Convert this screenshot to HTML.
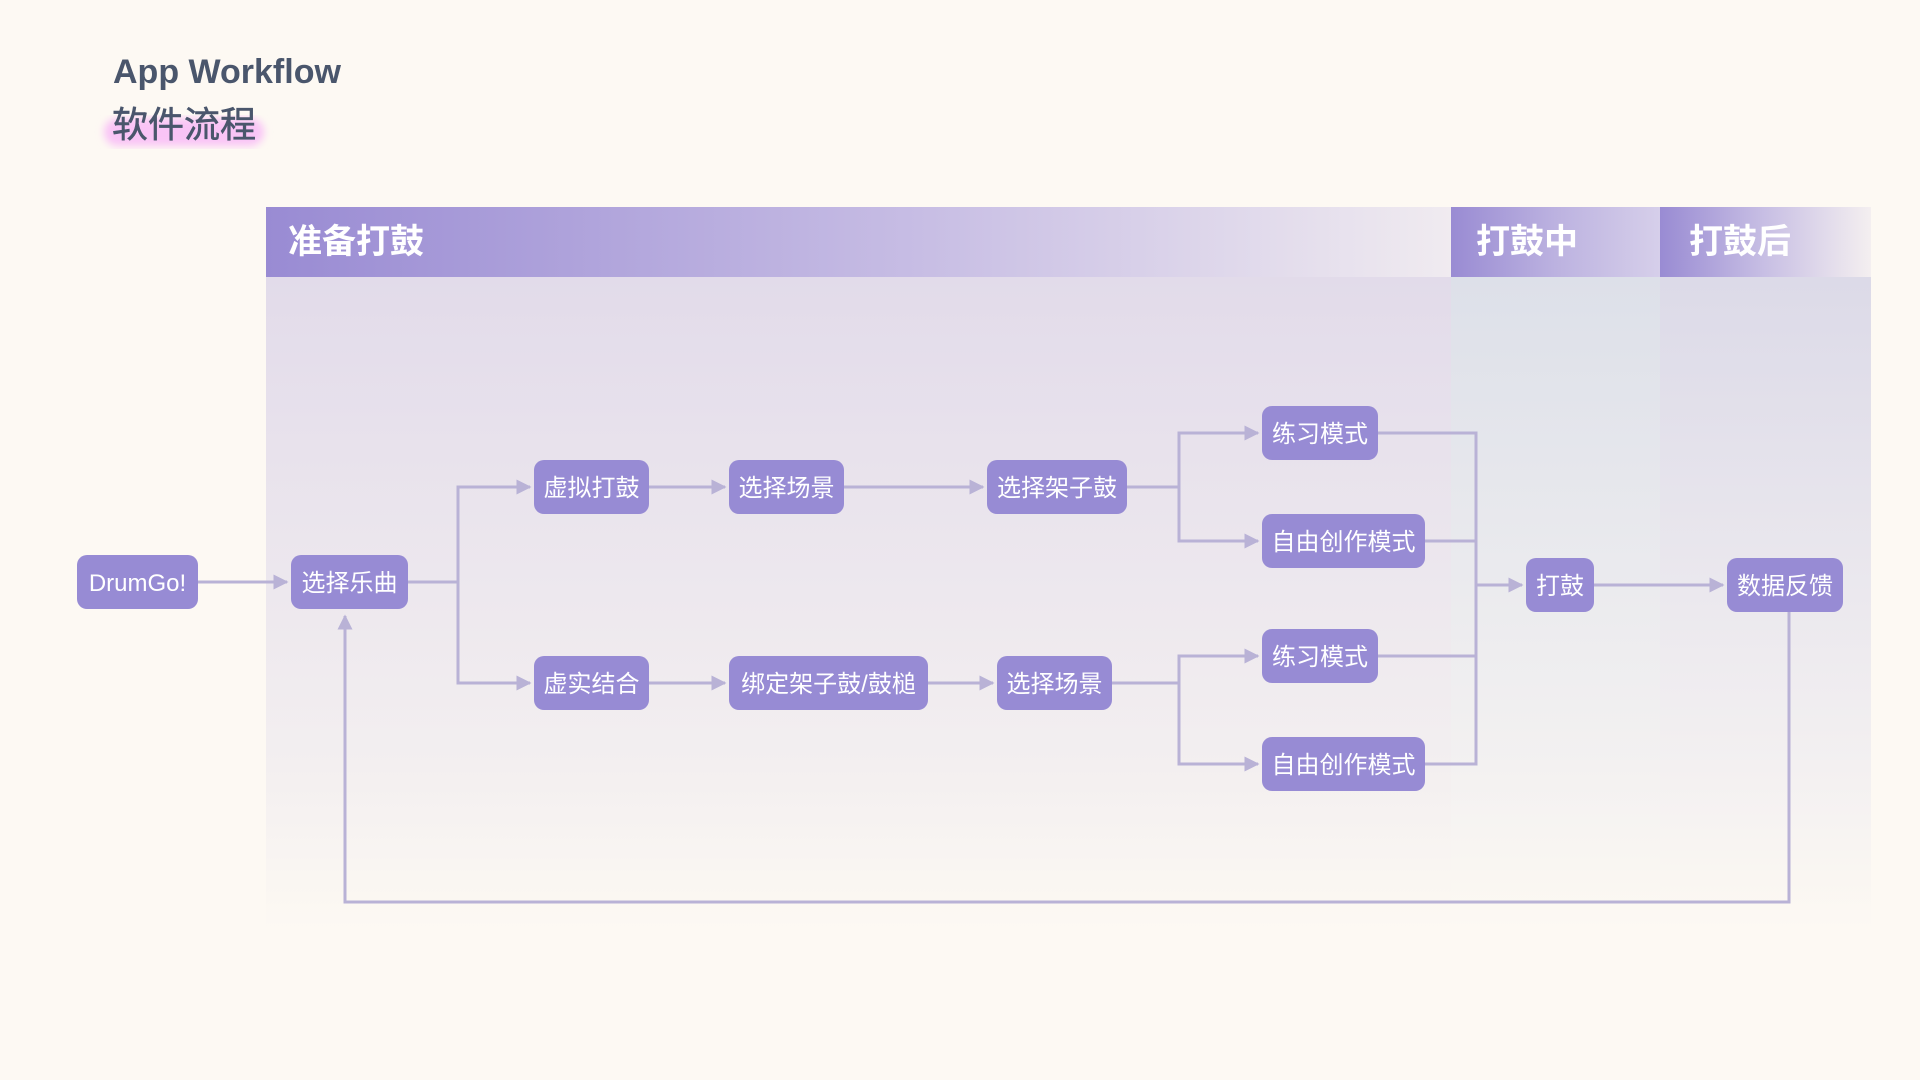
<!DOCTYPE html>
<html><head><meta charset="utf-8"><style>
html,body{margin:0;padding:0;background:#fdf9f3;width:1920px;height:1080px;overflow:hidden}
</style></head><body>
<svg width="1920" height="1080" xmlns="http://www.w3.org/2000/svg" font-family="'Liberation Sans','Noto Sans CJK SC',sans-serif">
<defs>
<linearGradient id="h1" x1="0" x2="1" y1="0" y2="0"><stop offset="0" stop-color="#998bd3"/><stop offset="0.55" stop-color="#c7bde4"/><stop offset="1" stop-color="#f0ebf0"/></linearGradient>
<linearGradient id="h2" x1="0" x2="1" y1="0" y2="0"><stop offset="0" stop-color="#998bd3"/><stop offset="0.5" stop-color="#bcb2e0"/><stop offset="1" stop-color="#d6cfea"/></linearGradient>
<linearGradient id="h3" x1="0" x2="1" y1="0" y2="0"><stop offset="0" stop-color="#998bd3"/><stop offset="0.5" stop-color="#c8bfe4"/><stop offset="1" stop-color="#f4eff0"/></linearGradient>
<linearGradient id="b1" x1="0" x2="0" y1="0" y2="1"><stop offset="0" stop-color="#e2dbea"/><stop offset="0.75" stop-color="#f3eff0"/><stop offset="1" stop-color="#fdf9f3"/></linearGradient>
<linearGradient id="b2" x1="0" x2="0" y1="0" y2="1"><stop offset="0" stop-color="#dde0e9"/><stop offset="0.75" stop-color="#f3f1f1"/><stop offset="1" stop-color="#fdf9f3"/></linearGradient>
<linearGradient id="b3" x1="0" x2="0" y1="0" y2="1"><stop offset="0" stop-color="#dcdae8"/><stop offset="0.75" stop-color="#f3f0f1"/><stop offset="1" stop-color="#fdf9f3"/></linearGradient>
<filter id="blur"><feGaussianBlur stdDeviation="4"/></filter>
<marker id="ar" viewBox="0 0 10 10" refX="9" refY="5" markerWidth="5" markerHeight="5" orient="auto" markerUnits="strokeWidth"><path d="M0,0 L10,5 L0,10 z" fill="#b9b2d6"/></marker>
</defs>
<text x="113" y="83" font-size="34" font-weight="bold" fill="#4a566c">App Workflow</text>
<rect x="104" y="118" width="160" height="28" rx="14" fill="#f9c4f6" filter="url(#blur)"/>
<text x="112" y="137" font-size="36" fill="#4a566c" stroke="#4a566c" stroke-width="0.6">软件流程</text>

<rect x="266" y="277" width="1185" height="653" fill="url(#b1)"/>
<rect x="1451" y="277" width="209" height="653" fill="url(#b2)"/>
<rect x="1660" y="277" width="211" height="653" fill="url(#b3)"/>
<rect x="266" y="207" width="1185" height="70" fill="url(#h1)"/>
<rect x="1451" y="207" width="209" height="70" fill="url(#h2)"/>
<rect x="1660" y="207" width="211" height="70" fill="url(#h3)"/>
<g font-size="34" font-weight="bold" fill="#fff">
<text x="288" y="253">准备打鼓</text>
<text x="1476" y="253">打鼓中</text>
<text x="1689" y="253">打鼓后</text>
</g>

<g stroke="#b9b2d6" stroke-width="3" fill="none">
<path d="M198 582 H287" marker-end="url(#ar)"/>
<path d="M408 582 H458 V487 H530" marker-end="url(#ar)"/>
<path d="M458 582 V683 H530" marker-end="url(#ar)"/>
<path d="M649 487 H725" marker-end="url(#ar)"/>
<path d="M844 487 H983" marker-end="url(#ar)"/>
<path d="M1127 487 H1179 V433 H1258" marker-end="url(#ar)"/>
<path d="M1179 487 V541 H1258" marker-end="url(#ar)"/>
<path d="M649 683 H725" marker-end="url(#ar)"/>
<path d="M928 683 H993" marker-end="url(#ar)"/>
<path d="M1112 683 H1179 V656 H1258" marker-end="url(#ar)"/>
<path d="M1179 683 V764 H1258" marker-end="url(#ar)"/>
<path d="M1378 433 H1476 V764 H1425"/>
<path d="M1425 541 H1476"/>
<path d="M1378 656 H1476"/>
<path d="M1476 585 H1522" marker-end="url(#ar)"/>
<path d="M1594 585 H1723" marker-end="url(#ar)"/>
<path d="M1789 612 V902 H345 V616" marker-end="url(#ar)"/>
</g>

<g fill="#978bd4">
<rect x="77" y="555" width="121" height="54" rx="10"/>
<rect x="291" y="555" width="117" height="54" rx="10"/>
<rect x="534" y="460" width="115" height="54" rx="10"/>
<rect x="729" y="460" width="115" height="54" rx="10"/>
<rect x="987" y="460" width="140" height="54" rx="10"/>
<rect x="1262" y="406" width="116" height="54" rx="10"/>
<rect x="1262" y="514" width="163" height="54" rx="10"/>
<rect x="1526" y="558" width="68" height="54" rx="10"/>
<rect x="1727" y="558" width="116" height="54" rx="10"/>
<rect x="534" y="656" width="115" height="54" rx="10"/>
<rect x="729" y="656" width="199" height="54" rx="10"/>
<rect x="997" y="656" width="115" height="54" rx="10"/>
<rect x="1262" y="629" width="116" height="54" rx="10"/>
<rect x="1262" y="737" width="163" height="54" rx="10"/>
</g>
<g font-size="24" fill="#fff" text-anchor="middle">
<text x="137.5" y="591">DrumGo!</text>
<text x="349.5" y="591">选择乐曲</text>
<text x="591.5" y="496">虚拟打鼓</text>
<text x="786.5" y="496">选择场景</text>
<text x="1057" y="496">选择架子鼓</text>
<text x="1320" y="442">练习模式</text>
<text x="1343.5" y="550">自由创作模式</text>
<text x="1560" y="594">打鼓</text>
<text x="1785" y="594">数据反馈</text>
<text x="591.5" y="692">虚实结合</text>
<text x="828.5" y="692">绑定架子鼓/鼓槌</text>
<text x="1054.5" y="692">选择场景</text>
<text x="1320" y="665">练习模式</text>
<text x="1343.5" y="773">自由创作模式</text>
</g>
</svg>
</body></html>
